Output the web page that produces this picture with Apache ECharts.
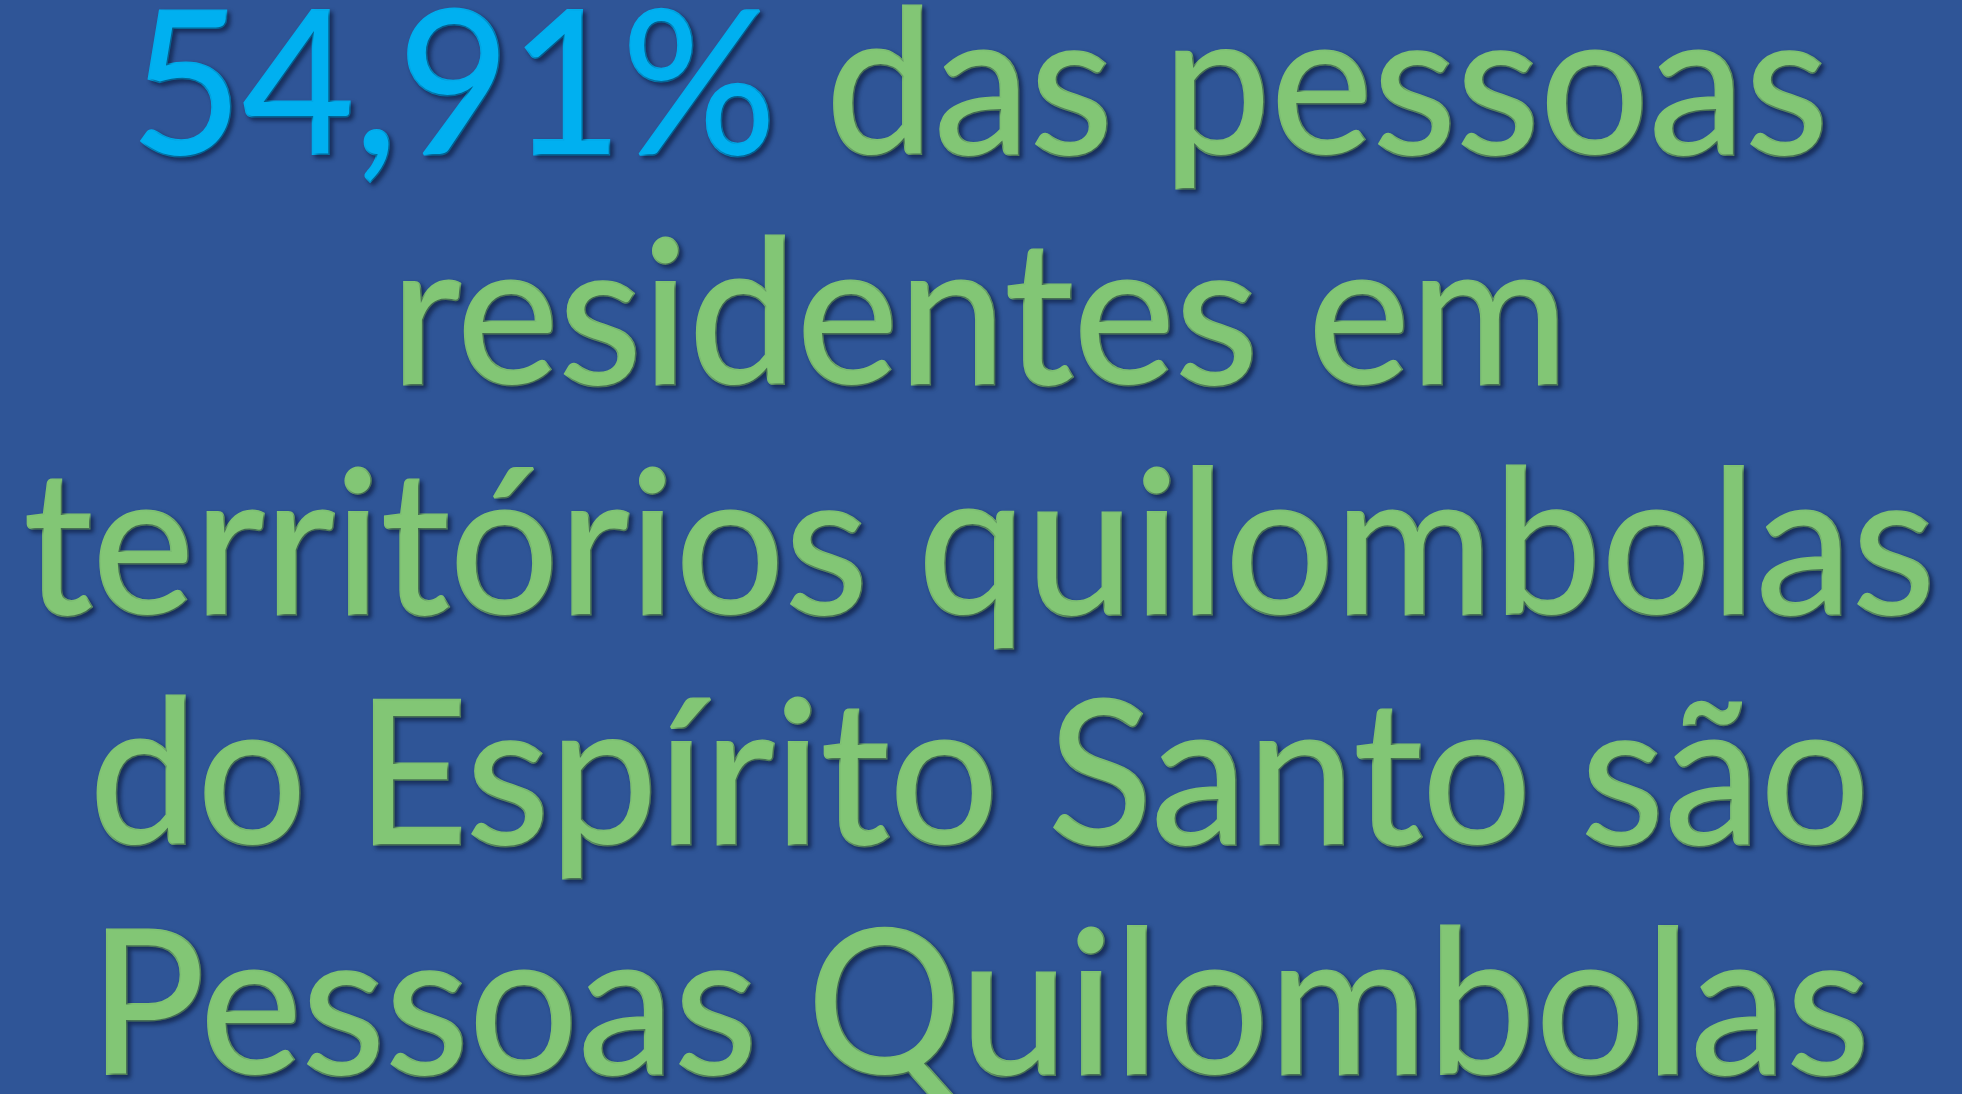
<!DOCTYPE html>
<html>
<head>
<meta charset="utf-8">
<script src="https://cdn.jsdelivr.net/npm/echarts@6/dist/echarts.min.js"></script>
<style>
  html, body { margin: 0; padding: 0; background: #2F5597; }
  #chart { width: 1962px; height: 1094px; }
</style>
</head>
<body>
<div id="chart"></div>
<script>
// texto do slide
const destaque = '54,91%';
const linhas = [
    'das pessoas',
    'residentes em',
    'territórios quilombolas',
    'do Espírito Santo são',
    'Pessoas Quilombolas'
];

function PaintChart() {
    const chart = echarts.init(document.getElementById('chart'));
    const fonte = 'Lato';
    const tamanho = 200;

    // largura da linha mais longa para ajustar a escala horizontal
    const ctx = document.createElement('canvas').getContext('2d');
    ctx.font = tamanho + 'px ' + fonte;
    const larguraMax = ctx.measureText(linhas[2]).width;
    const escalaX = 1912 / larguraMax;

    const texto = '{a|' + destaque + '} {b|' + linhas[0] + '}\n' +
        linhas.slice(1).map(l => '{b|' + l + '}').join('\n');

    // sombra e contorno (engrossa o traço, parecido com Calibri)
    const estilo = (cor) => ({
        fill: cor,
        fontFamily: fonte,
        fontSize: tamanho,
        lineHeight: 230,
        stroke: cor,
        lineWidth: 3,
        textShadowColor: 'rgba(10, 20, 50, 0.55)',
        textShadowBlur: 4,
        textShadowOffsetX: 3,
        textShadowOffsetY: 3
    });

    const option = {
        backgroundColor: '#2F5597',
        graphic: [
            {
                type: 'text',
                x: 980,
                y: 549,
                scaleX: escalaX,
                style: {
                    text: texto,
                    align: 'center',
                    verticalAlign: 'middle',
                    font: tamanho + 'px ' + fonte,
                    lineHeight: 230,
                    rich: {
                        a: estilo('#00B0F0'),
                        b: estilo('#82C675')
                    }
                }
            }
        ]
    };

    chart.setOption(option);
}
PaintChart();
</script>
</body>
</html>
